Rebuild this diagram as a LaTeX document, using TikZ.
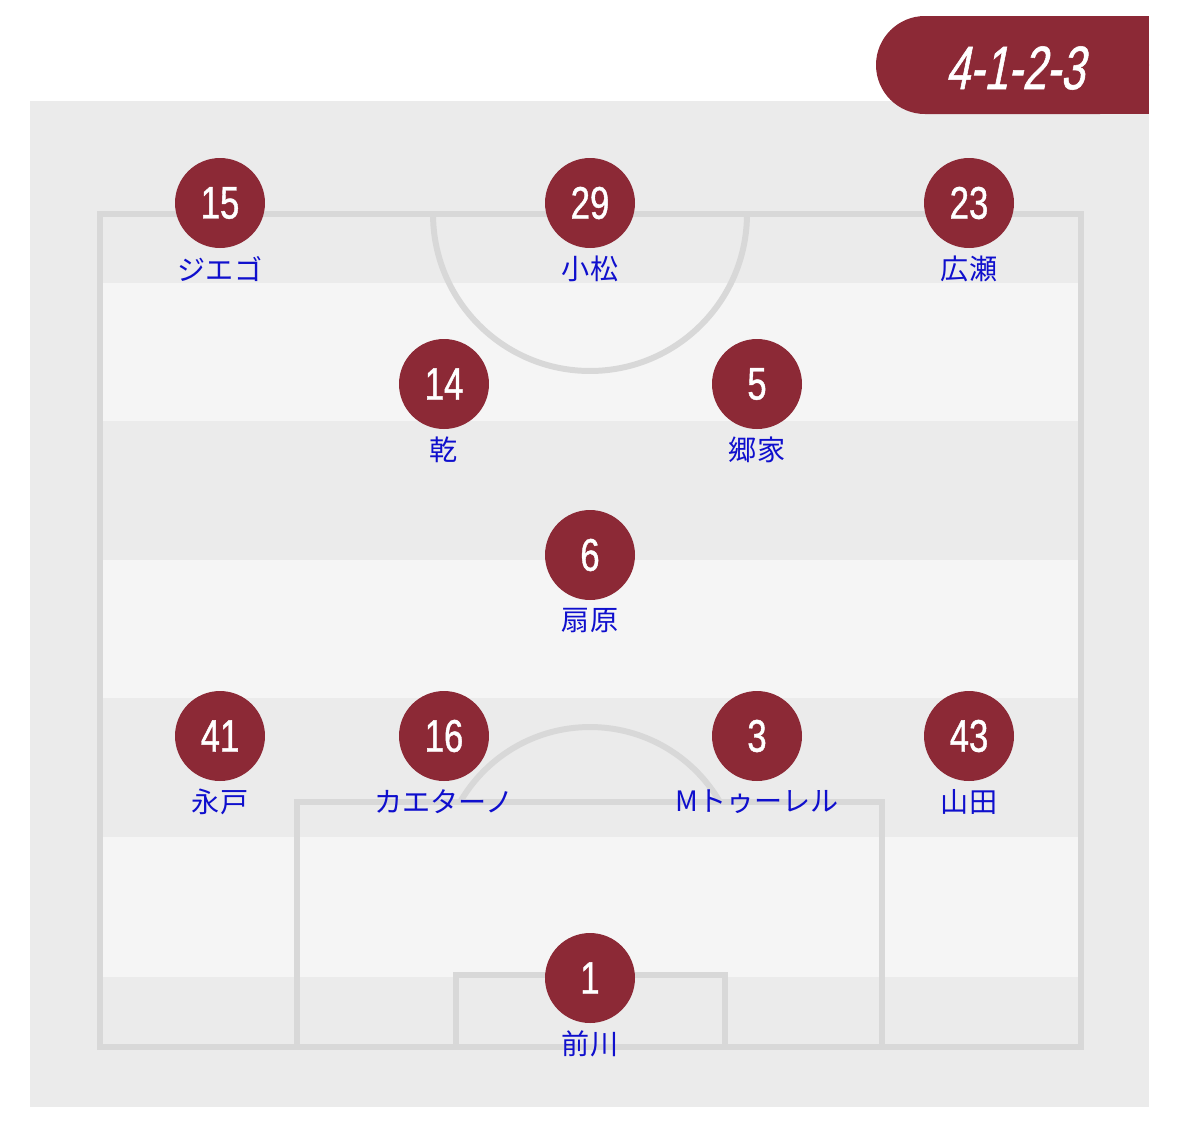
\documentclass[tikz,border=0pt]{standalone}
\usepackage{fontspec}
\newfontfamily\jpfont{Noto Sans CJK JP}
\newfontfamily\numfont[FakeStretch=0.76,FakeBold=0.9]{Liberation Sans}
\newfontfamily\formfont[FakeStretch=0.7,FakeSlant=0.2,FakeBold=0.9]{Liberation Sans}
\definecolor{wine}{RGB}{140,41,54}
\definecolor{nameblue}{RGB}{15,15,205}
\definecolor{pitchgrey}{RGB}{235,235,235}
\definecolor{stripe}{RGB}{245,245,245}
\definecolor{linegrey}{RGB}{216,216,216}

\begin{document}
\begin{tikzpicture}[x=0.02cm, y=-0.02cm,
 player/.style={circle, fill=wine, minimum size=1.8cm, inner sep=0pt,
   text=white, font=\numfont\fontsize{26}{26}\selectfont},
 pname/.style={text=nameblue, inner sep=0pt, font=\jpfont\fontsize{16}{16}\selectfont},
 fieldline/.style={draw=linegrey, line width=3.4pt}]

  \useasboundingbox[fill=white] (0,0) rectangle (1179,1130);
  \fill[pitchgrey] (30,101) rectangle (1149,1107);

  % stripes
  \foreach \t/\b in {283/421, 560/698, 837/977} {
   \fill[stripe] (100,\t) rectangle (1081,\b);}

  % pitch markings
  \draw[fieldline] (100,214) rectangle (1081,1047);
  \draw[fieldline] (297,802) rectangle (882,1047);
  \draw[fieldline] (456,975) rectangle (725,1047);
  \begin{scope}
   \clip (100,214) rectangle (1081,1047);
   \draw[fieldline] (590,214) circle[radius=3.14cm];
  \end{scope}
  \begin{scope}
   \clip (100,214) rectangle (1081,802);
   \draw[fieldline] (590,877) circle[radius=3cm];
  \end{scope}

  % formation badge
  \fill[wine, rounded corners=0.98cm] (876,16) rectangle (1149,114);
  \fill[wine] (1000,16) rectangle (1149,114);
  \node[text=white, font=\formfont\fontsize{35}{35}\selectfont] (form) at (1015,68) {4-1-2-3};

  % players
  \foreach \x/\y/\num/\nm in {220/203/15/ジエゴ, 590/203/29/小松, 969/203/23/広瀬,
    444/384/14/乾, 757/384/5/郷家, 590/555/6/扇原,
    220/736/41/永戸, 444/736/16/カエターノ, 757/736/3/Mトゥーレル, 969/736/43/山田,
    590/978/1/前川} {
   \node[player] (p\num) at (\x,\y) {\num};
   \node[pname] (n\num) at (\x,{\y+66}) {\nm};}
\end{tikzpicture}
\end{document}
